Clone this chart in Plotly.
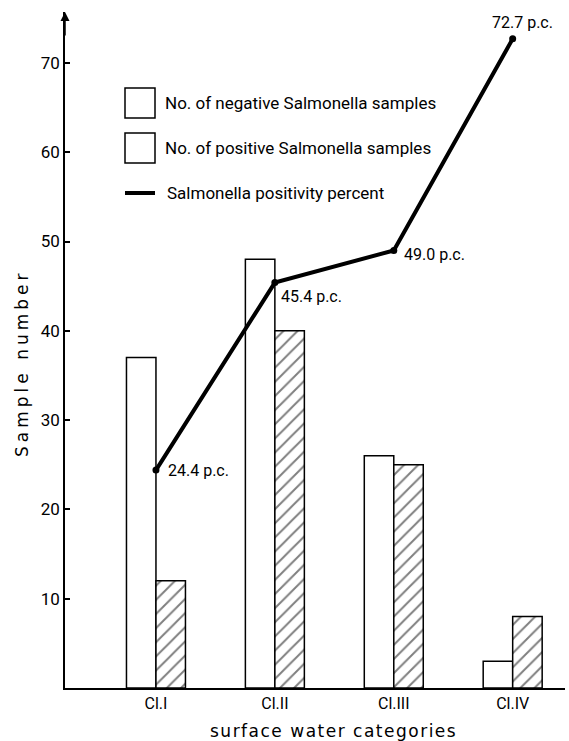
import plotly.graph_objects as go

categories = ["Cl.I", "Cl.II", "Cl.III", "Cl.IV"]
negative_samples = [37, 48, 26, 3]
positive_samples = [12, 40, 25, 8]
positivity_percent = [24.4, 45.4, 49.0, 72.7]
percent_labels = ["24.4 p.c.", "45.4 p.c.", "49.0 p.c.", "72.7 p.c."]
y_ticks = [10, 20, 30, 40, 50, 60, 70]

legend_names = ["No. of negative Salmonella samples",
                "No. of positive Salmonella samples",
                "Salmonella positivity percent"]

FONT = "Roboto"
W, H = 569, 741
L, R, T, B = 65, 4, 12, 53

fig = go.Figure()
fig.add_trace(go.Bar(
    x=categories, y=negative_samples, name=legend_names[0],
    marker=dict(color="white", line=dict(color="black", width=1.5)),
    showlegend=False,
))
fig.add_trace(go.Bar(
    x=categories, y=positive_samples, name=legend_names[1],
    marker=dict(color="white", line=dict(color="black", width=1.5),
                pattern=dict(shape="/", fgcolor="black", bgcolor="white",
                             size=10, solidity=0.2)),
    showlegend=False,
))
fig.add_trace(go.Scatter(
    x=categories, y=positivity_percent, name=legend_names[2],
    mode="lines+markers",
    line=dict(color="black", width=4),
    marker=dict(color="black", size=7),
    showlegend=False,
))

# point labels
shifts = [(10, 0), (4, -14), (8, -4), (-23, 16)]
for cat, val, lab, (dx, dy) in zip(categories, positivity_percent, percent_labels, shifts):
    fig.add_annotation(x=cat, y=val, text=lab, showarrow=False,
                       xanchor="left", yanchor="middle", xshift=dx, yshift=dy,
                       font=dict(family=FONT, size=16, color="black"))

pw, ph = W - L - R, H - T - B
def px(x):
    return (x - L) / pw
def py(y):
    return (H - B - y) / ph

# manual legend
for (y0, y1) in [(88, 118), (133, 163)]:
    fig.add_shape(type="rect", xref="paper", yref="paper",
                  x0=px(125), x1=px(155), y0=py(y1), y1=py(y0),
                  line=dict(color="black", width=1.5), fillcolor="white")
fig.add_shape(type="line", xref="paper", yref="paper",
              x0=px(125), x1=px(155), y0=py(193), y1=py(193),
              line=dict(color="black", width=4))
for name, yc, xl in zip(legend_names, [103, 148, 193], [163, 163, 165]):
    fig.add_annotation(xref="paper", yref="paper", x=px(xl), y=py(yc),
                       text=name, showarrow=False, xanchor="left", yanchor="middle",
                       font=dict(family=FONT, size=17, color="black"))

# axis titles
fig.add_annotation(xref="paper", yref="paper", x=px(22), y=py(363),
                   text='<span style="letter-spacing:4px">Sample number</span>',
                   textangle=-90, showarrow=False,
                   xanchor="center", yanchor="middle",
                   font=dict(family="DejaVu Sans", size=17, color="black"))
fig.add_annotation(xref="paper", yref="paper", x=px(333), y=py(731),
                   text='<span style="letter-spacing:1.5px">surface water categories</span>',
                   showarrow=False,
                   xanchor="center", yanchor="middle",
                   font=dict(family="DejaVu Sans", size=17, color="black"))

# y-axis arrow
fig.add_annotation(xref="paper", yref="paper", x=0, y=1, ax=0, ay=25,
                   text="", showarrow=True, arrowhead=2, arrowsize=1.2,
                   arrowwidth=1.5, arrowcolor="black")

fig.update_layout(
    width=W, height=H,
    margin=dict(l=L, r=R, t=T, b=B),
    paper_bgcolor="white", plot_bgcolor="white",
    barmode="group", bargap=0.504, bargroupgap=0,
    font=dict(family=FONT, color="black"),
    xaxis=dict(range=[-0.765, 3.44], showgrid=False, zeroline=False,
               automargin=False,
               showline=True, linecolor="black", linewidth=1.5,
               ticks="", tickfont=dict(family=FONT, size=16, color="black")),
    yaxis=dict(range=[0, 75.7], showgrid=False, zeroline=False,
               automargin=False,
               showline=True, linecolor="black", linewidth=1.5,
               tickvals=y_ticks, ticks="inside", ticklen=5, tickwidth=1.5,
               tickcolor="black",
               tickfont=dict(family=FONT, size=17, color="black")),
)

fig.write_html("out.html",
               config={"displayModeBar": False},
               post_script="document.body.style.margin='0';document.body.style.overflow='hidden';")
